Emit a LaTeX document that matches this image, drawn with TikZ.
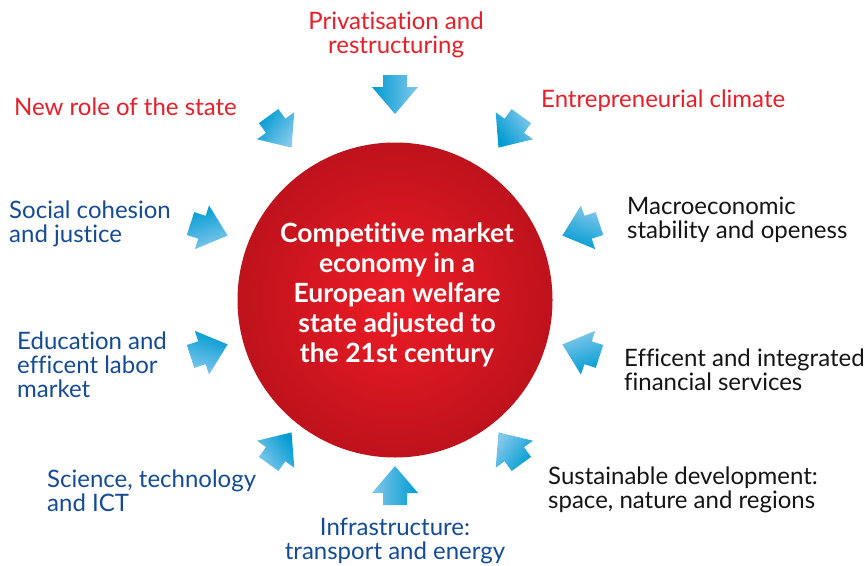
\documentclass[tikz,border=0pt]{standalone}
\usepackage{fontspec}
\setmainfont{Lato}[Ligatures=NoCommon]
\definecolor{redtxt}{RGB}{232,30,40}
\definecolor{bluetxt}{RGB}{20,75,150}
\definecolor{blktxt}{RGB}{20,20,20}
\definecolor{arrtop}{RGB}{0,155,210}
\definecolor{arrbot}{RGB}{130,200,235}
\definecolor{circin}{RGB}{238,28,38}
\definecolor{circout}{RGB}{190,18,28}
\begin{document}
\begin{tikzpicture}[x=1pt,y=1pt,
  lbl/.style={inner sep=0pt,align=left,anchor=north west,font=\fontsize{24}{24}\selectfont},
  lblc/.style={inner sep=0pt,align=center,anchor=north,font=\fontsize{24}{24}\selectfont},
  redl/.style={text=redtxt},
  bluel/.style={text=bluetxt},
  blkl/.style={text=blktxt}]
\useasboundingbox (0,0) rectangle (866,-565);
% central circle
\shade[inner color=circin,outer color=circout] (395,-300) circle (157.5);
\node[inner sep=0pt,align=center,anchor=north,text=white,
  font=\bfseries\fontsize{26.5}{30}\selectfont] (core) at (397,-223)
  {Competitive market\\economy in a\\European welfare\\state adjusted to\\the 21st century};
% arrows
\begin{scope}[shift={(395,-290)}]
\foreach \a in {90,54,18,-18,-54,-90,-126,-162,162,126}{
  \pgfmathsetmacro{\rot}{\a+180}
  \pgfmathsetmacro{\sa}{-\a-180}
  \begin{scope}[shift={(\a:195)},rotate=\rot]
    \shade[top color=arrtop,bottom color=arrbot,shading angle=\sa]
      (-20,-12) -- (-8,-12) -- (-8,-23) -- (19,0) -- (-8,23) -- (-8,12) -- (-20,12) -- cycle;
  \end{scope}
}
\end{scope}
% labels
\node[lblc,redl] (priv) at (396,-12) {Privatisation and\\restructuring};
\node[lbl,redl] (state) at (14,-98) {New role of the state};
\node[lbl,redl] (entre) at (541,-90) {Entrepreneurial climate};
\node[lbl,bluel] (social) at (9,-201) {Social cohesion\\and justice};
\node[lbl,blkl] (macro) at (627,-197) {Macroeconomic\\stability and openess};
\node[lbl,bluel] (edu) at (17,-332) {Education and\\efficent labor\\market};
\node[lbl,blkl] (fin) at (624,-349) {Efficent and integrated\\financial services};
\node[lbl,bluel] (sci) at (47,-470) {Science, technology\\and ICT};
\node[lbl,blkl] (sust) at (548,-467) {Sustainable development:\\space, nature and regions};
\node[lblc,bluel] (infra) at (395,-518) {Infrastructure:\\transport and energy};
\end{tikzpicture}
\end{document}
